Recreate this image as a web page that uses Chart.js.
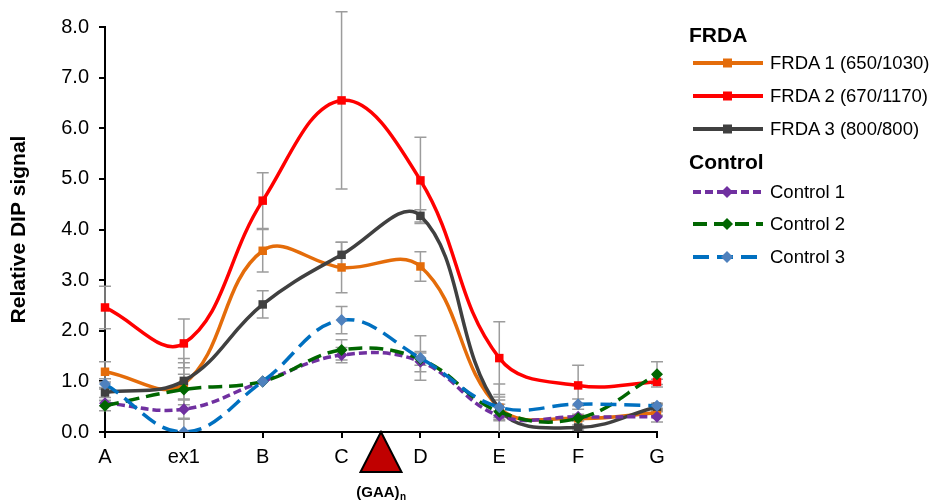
<!DOCTYPE html>
<html>
<head>
<meta charset="utf-8">
<script src="https://cdn.jsdelivr.net/npm/chart.js@4.4.1/dist/chart.umd.min.js"></script>
<style>
  body { margin: 0; background: #fff; font-family: "Liberation Sans", Arial, sans-serif; }
  #wrap { position: relative; width: 932px; height: 500px; }
  .lg-head { position: absolute; left: 689px; font-weight: bold; font-size: 21px; line-height: 24px; color: #000; }
  .lg-row { position: absolute; left: 692px; height: 24px; display: flex; align-items: center; font-size: 18.5px; color: #000; white-space: nowrap; }
  .lg-row svg { margin-right: 6px; }
</style>
</head>
<body>
<div id="wrap">
  <canvas id="dipChart" width="932" height="500"></canvas>
</div>
<script>
// categories along the gene
const regions = ["A", "ex1", "B", "C", "D", "E", "F", "G"];

// series values (relative DIP signal)
const frda1 = [1.19, 0.95, 3.58, 3.25, 3.27, 0.48, 0.27, 0.38];
const frda2 = [2.46, 1.75, 4.57, 6.55, 4.97, 1.46, 0.92, 0.99];
const frda3 = [0.78, 1.01, 2.52, 3.50, 4.27, 0.45, 0.09, 0.50];
const control1 = [0.57, 0.45, 1.00, 1.52, 1.39, 0.32, 0.30, 0.30];
const control2 = [0.52, 0.84, 1.00, 1.62, 1.44, 0.40, 0.27, 1.14];
const control3 = [0.95, 0.00, 1.00, 2.21, 1.46, 0.49, 0.55, 0.52];

// error bar half-lengths
const frda1Err = [0.20, 0.50, 0.42, 0.50, 0.29, 0.15, 0.05, 0.05];
const frda2Err = [0.42, 0.48, 0.55, 1.75, 0.85, 0.72, 0.40, 0.05];
const frda3Err = [0.10, 0.36, 0.27, 0.25, 0.12, 0.50, 0.05, 0.05];
const control1Err = [0.05, 0.18, 0, 0.15, 0.20, 0.10, 0.05, 0.10];
const control2Err = [0.10, 0.30, 0, 0.20, 0.12, 0.15, 0.05, 0.25];
const control3Err = [0.10, 0.25, 0, 0.27, 0.44, 0.20, 0.10, 0.05];

const yTicks = [0, 1, 2, 3, 4, 5, 6, 7, 8];
const repeatLabel = "(GAA)";

const series = [
  { label: "FRDA 1 (650/1030)", data: frda1, err: frda1Err, color: "#E46C0A", marker: "#E46C0A", dash: [], style: "rect" },
  { label: "FRDA 2 (670/1170)", data: frda2, err: frda2Err, color: "#FF0000", marker: "#FF0000", dash: [], style: "rect" },
  { label: "FRDA 3 (800/800)", data: frda3, err: frda3Err, color: "#404040", marker: "#404040", dash: [], style: "rect" },
  { label: "Control 1", data: control1, err: control1Err, color: "#7030A0", marker: "#7030A0", dash: [8, 4], style: "rectRot" },
  { label: "Control 2", data: control2, err: control2Err, color: "#006600", marker: "#006600", dash: [14, 7], style: "rectRot" },
  { label: "Control 3", data: control3, err: control3Err, color: "#0070C0", marker: "#4F81BD", dash: [16, 8], style: "rectRot" }
];

// error bars drawn beneath the lines (cut off at zero like the original)
const errorBars = {
  id: "errorBars",
  beforeDatasetsDraw(chart) {
    const { ctx, scales: { x, y } } = chart;
    ctx.save();
    ctx.strokeStyle = "#9c9c9c";
    ctx.lineWidth = 1.5;
    series.forEach(s => {
      s.err.forEach((e, j) => {
        if (!e) return;
        const px = x.getPixelForValue(j);
        const lowVal = s.data[j] - e;
        const top = y.getPixelForValue(s.data[j] + e);
        const bot = y.getPixelForValue(Math.max(lowVal, 0));
        ctx.beginPath();
        ctx.moveTo(px, top); ctx.lineTo(px, bot);
        ctx.moveTo(px - 6, top); ctx.lineTo(px + 6, top);
        if (lowVal >= 0) { ctx.moveTo(px - 6, bot); ctx.lineTo(px + 6, bot); }
        ctx.stroke();
      });
    });
    ctx.restore();
  }
};

// triangle marking the repeat between C and D
const repeatMark = {
  id: "repeatMark",
  afterDraw(chart) {
    const { ctx, scales: { x, y } } = chart;
    const cx = (x.getPixelForValue(3) + x.getPixelForValue(4)) / 2;
    const base = y.getPixelForValue(0);
    ctx.save();
    ctx.beginPath();
    ctx.moveTo(cx, base);
    ctx.lineTo(cx + 20.5, base + 40);
    ctx.lineTo(cx - 20.5, base + 40);
    ctx.closePath();
    ctx.fillStyle = "#C00000";
    ctx.fill();
    ctx.lineWidth = 2;
    ctx.strokeStyle = "#000";
    ctx.lineJoin = "miter";
    ctx.stroke();
    ctx.fillStyle = "#000";
    ctx.font = "bold 15px 'Liberation Sans', Arial, sans-serif";
    ctx.textBaseline = "alphabetic";
    const w = ctx.measureText(repeatLabel).width;
    ctx.font = "bold 10px 'Liberation Sans', Arial, sans-serif";
    const wn = ctx.measureText("n").width;
    const left = cx - (w + wn) / 2;
    ctx.font = "bold 15px 'Liberation Sans', Arial, sans-serif";
    ctx.fillText(repeatLabel, left, base + 65);
    ctx.font = "bold 10px 'Liberation Sans', Arial, sans-serif";
    ctx.fillText("n", left + w + 0.5, base + 68);
    ctx.restore();
  }
};

const ctx = document.getElementById("dipChart").getContext("2d");
new Chart(ctx, {
  type: "line",
  data: {
    labels: regions,
    datasets: series.map((s, i) => ({
      label: s.label,
      data: s.data,
      borderColor: s.color,
      backgroundColor: s.marker,
      borderWidth: 3.5,
      borderDash: s.dash,
      pointStyle: s.style,
      pointRadius: 6,
      pointBorderWidth: 0,
      pointBackgroundColor: s.marker,
      tension: 0.4,
      fill: false,
      order: series.length - i
    }))
  },
  options: {
    responsive: false,
    animation: false,
    devicePixelRatio: 1,
    layout: { padding: { left: 0, top: 27, right: 275, bottom: 0 } },
    plugins: {
      legend: { display: false },
      tooltip: { enabled: false }
    },
    scales: {
      x: {
        offset: false,
        grid: { drawOnChartArea: false, drawTicks: true, tickLength: 6, color: "#000", lineWidth: 2 },
        border: { color: "#000", width: 2 },
        ticks: { color: "#000", font: { size: 20, family: "'Liberation Sans', Arial, sans-serif" }, padding: 7, maxRotation: 0 },
        afterFit(scale) { scale.height = 68; }
      },
      y: {
        min: 0,
        max: 8,
        afterBuildTicks(scale) { scale.ticks = yTicks.map(v => ({ value: v })); },
        grid: { drawOnChartArea: false, drawTicks: true, tickLength: 6, color: "#000", lineWidth: 2 },
        border: { color: "#000", width: 2 },
        ticks: {
          color: "#000",
          font: { size: 20, family: "'Liberation Sans', Arial, sans-serif" },
          padding: 10,
          callback: v => Number(v).toFixed(1)
        },
        title: {
          display: true,
          text: "Relative DIP signal",
          color: "#000",
          font: { size: 21, weight: "bold", family: "'Liberation Sans', Arial, sans-serif" },
          padding: { top: 7, bottom: 0 }
        },
        afterFit(scale) { scale.width = 105; }
      }
    }
  },
  plugins: [errorBars, repeatMark]
});

// legend with group headings
const wrap = document.getElementById("wrap");
function addHead(text, cy) {
  const d = document.createElement("div");
  d.className = "lg-head";
  d.style.top = (cy - 12) + "px";
  d.textContent = text;
  wrap.appendChild(d);
}
function addRow(s, cy) {
  const d = document.createElement("div");
  d.className = "lg-row";
  d.style.top = (cy - 12) + "px";
  const marker = s.style === "rect"
    ? `<rect x="31" y="1.5" width="9" height="9" fill="${s.marker}"/>`
    : `<polygon points="35,0 41,6 35,12 29,6" fill="${s.marker}"/>`;
  const dash = s.dash.length ? `stroke-dasharray="${s.dash.join(" ")}"` : "";
  d.innerHTML = `<svg width="72" height="12"><line x1="1" y1="6" x2="71" y2="6" stroke="${s.color}" stroke-width="4" ${dash}/>${marker}</svg><span>${s.label}</span>`;
  wrap.appendChild(d);
}
addHead("FRDA", 35);
addRow(series[0], 63);
addRow(series[1], 96);
addRow(series[2], 129);
addHead("Control", 162);
addRow(series[3], 192);
addRow(series[4], 224);
addRow(series[5], 257);
</script>
</body>
</html>
